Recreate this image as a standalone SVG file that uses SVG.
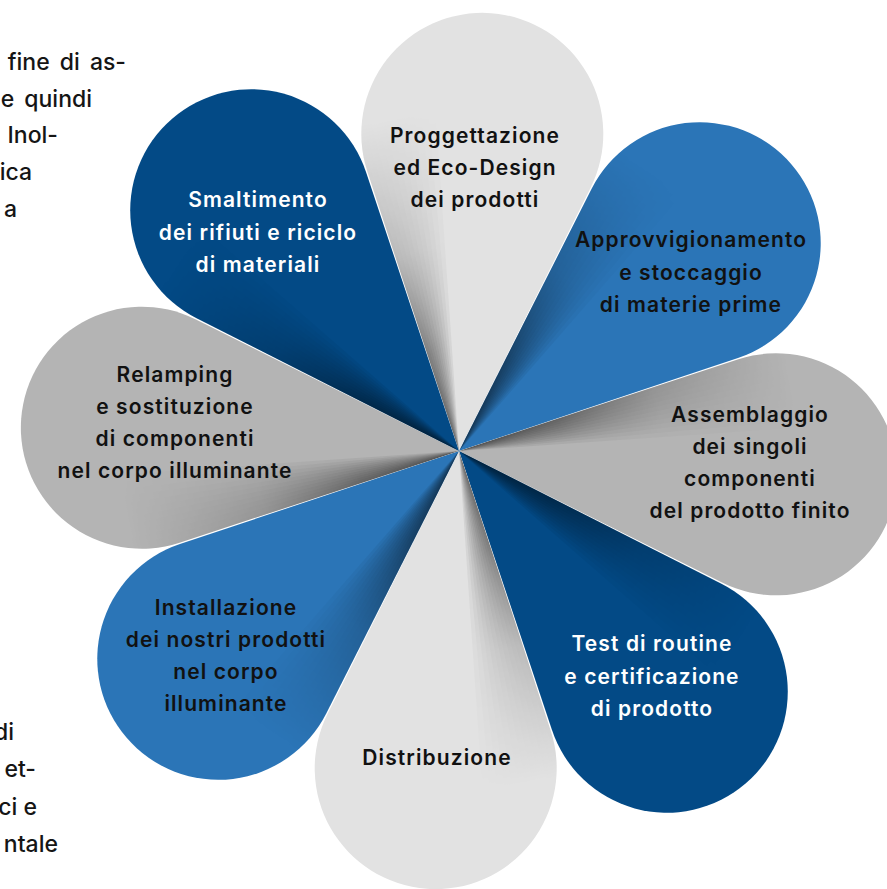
<svg xmlns="http://www.w3.org/2000/svg" width="887" height="889" viewBox="0 0 887 889">
<style>
.lbl{font-family:Inter,"Open Sans","Liberation Sans",sans-serif;font-weight:600;font-size:21px;letter-spacing:1.1px;text-anchor:middle;fill:#111}
.w{fill:#fff}
.body{font-family:Inter,"Open Sans","Liberation Sans",sans-serif;font-weight:500;font-size:23px;fill:#151515;text-anchor:end}
.ws{word-spacing:4px}
.lightp{fill:#e2e2e2}
.grayp{fill:#b4b4b4}
.bluep{fill:#2b75b7}
.darkp{fill:#034a86}
</style>
<defs>
<path id="petal" d="M0,0 L-111.9,-271.96 A121,121 0 1,1 111.9,-271.96 Z"/>
<clipPath id="pclip"><use href="#petal"/></clipPath>
<radialGradient id="fade" gradientUnits="userSpaceOnUse" cx="0" cy="0" r="340">
<stop offset="0" stop-color="#fff" stop-opacity="1"/>
<stop offset="0.3" stop-color="#fff" stop-opacity="0.75"/>
<stop offset="0.6" stop-color="#fff" stop-opacity="0.3"/>
<stop offset="1" stop-color="#fff" stop-opacity="0"/>
</radialGradient>
<mask id="fmask" maskUnits="userSpaceOnUse" x="-400" y="-500" width="800" height="600">
<rect x="-400" y="-500" width="800" height="600" fill="url(#fade)"/>
</mask>
<g id="shadow" clip-path="url(#pclip)">
<g mask="url(#fmask)" fill="#000" fill-opacity="0.075">
<path d="M0,0 L-135.5,-322.6 L-128.8,-325.3 Z"/>
<path d="M0,0 L-135.5,-322.6 L-122.0,-328.0 Z"/>
<path d="M0,0 L-135.5,-322.6 L-115.1,-330.5 Z"/>
<path d="M0,0 L-135.5,-322.6 L-108.1,-332.9 Z"/>
<path d="M0,0 L-135.5,-322.6 L-101.0,-335.1 Z"/>
<path d="M0,0 L-135.5,-322.6 L-93.9,-337.2 Z"/>
<path d="M0,0 L-135.5,-322.6 L-86.6,-339.1 Z"/>
<path d="M0,0 L-135.5,-322.6 L-79.3,-340.9 Z"/>
<path d="M0,0 L-135.5,-322.6 L-71.9,-342.5 Z"/>
<path d="M0,0 L-135.5,-322.6 L-64.5,-344.0 Z"/>
<path d="M0,0 L-135.5,-322.6 L-57.0,-345.3 Z"/>
<path d="M0,0 L-135.5,-322.6 L-49.5,-346.5 Z"/>
</g>
</g>
</defs>

<g id="side-text">
<text class="body ws" x="126" y="70">fine di as-</text>
<text class="body ws" x="92" y="107">e quindi</text>
<text class="body" x="58" y="143">Inol-</text>
<text class="body" x="32" y="180">ica</text>
<text class="body" x="17" y="217">a</text>
<text class="body" x="14" y="740">di</text>
<text class="body" x="36" y="777">et-</text>
<text class="body" x="37" y="815">ci e</text>
<text class="body" x="58" y="852">ntale</text>
</g>

<g id="connectors"></g>

<g id="node-progettazione">
<g transform="translate(459,451) rotate(4.2)"><use href="#petal" class="lightp"/><use href="#shadow"/></g>
</g>
<g id="node-approvvigionamento">
<g transform="translate(459,451) rotate(49.2)"><use href="#petal" class="bluep"/><use href="#shadow"/></g>
</g>
<g id="node-assemblaggio">
<g transform="translate(459,451) rotate(94.2)"><use href="#petal" class="grayp"/><use href="#shadow"/></g>
</g>
<g id="node-test">
<g transform="translate(459,451) rotate(139.2)"><use href="#petal" class="darkp"/><use href="#shadow"/></g>
</g>
<g id="node-distribuzione">
<g transform="translate(459,451) rotate(184.2)"><use href="#petal" class="lightp"/><use href="#shadow"/></g>
</g>
<g id="node-installazione">
<g transform="translate(459,451) rotate(229.2)"><use href="#petal" class="bluep"/><use href="#shadow"/></g>
</g>
<g id="node-relamping">
<g transform="translate(459,451) rotate(274.2)"><use href="#petal" class="grayp"/><use href="#shadow"/></g>
</g>
<g id="node-smaltimento">
<g transform="translate(459,451) rotate(319.2)"><use href="#petal" class="darkp"/><use href="#shadow"/></g>
</g>

<g id="labels">
<text class="lbl" x="475" y="143">Proggettazione</text>
<text class="lbl" x="475" y="175">ed Eco-Design</text>
<text class="lbl" x="475" y="207">dei prodotti</text>

<text class="lbl" x="691" y="247">Approvvigionamento</text>
<text class="lbl" x="691" y="280">e stoccaggio</text>
<text class="lbl" x="691" y="312">di materie prime</text>

<text class="lbl" x="750" y="422">Assemblaggio</text>
<text class="lbl" x="750" y="454">dei singoli</text>
<text class="lbl" x="750" y="486">componenti</text>
<text class="lbl" x="750" y="518">del prodotto finito</text>

<text class="lbl w" x="652" y="651">Test di routine</text>
<text class="lbl w" x="652" y="684">e certificazione</text>
<text class="lbl w" x="652" y="716">di prodotto</text>

<text class="lbl" x="437" y="765">Distribuzione</text>

<text class="lbl" x="226" y="615">Installazione</text>
<text class="lbl" x="226" y="647">dei nostri prodotti</text>
<text class="lbl" x="226" y="679">nel corpo</text>
<text class="lbl" x="226" y="711">illuminante</text>

<text class="lbl" x="175" y="382">Relamping</text>
<text class="lbl" x="175" y="414">e sostituzione</text>
<text class="lbl" x="175" y="446">di componenti</text>
<text class="lbl" x="175" y="478">nel corpo illuminante</text>

<text class="lbl w" x="258" y="207">Smaltimento</text>
<text class="lbl w" x="258" y="240">dei rifiuti e riciclo</text>
<text class="lbl w" x="258" y="272">di materiali</text>
</g>
</svg>
